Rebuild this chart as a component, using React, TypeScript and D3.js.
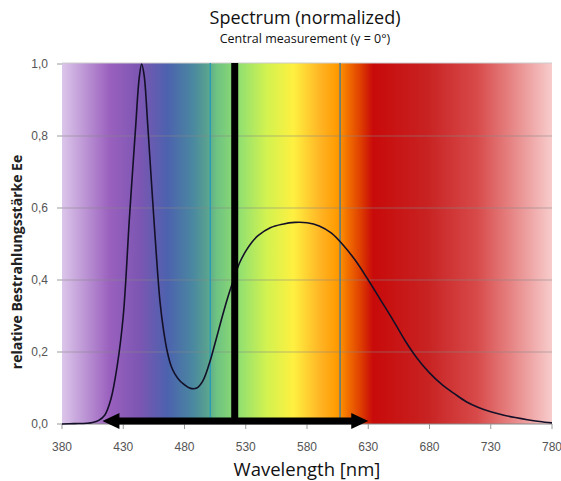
import React from "react";
import * as d3 from "d3";

const wavelengths = [380, 390, 400, 405, 410, 415, 420, 425, 430, 435, 440, 443, 445, 447, 450, 455, 460, 463, 466, 469, 472, 476, 480, 485, 490, 495, 500, 505, 510, 515, 520, 525, 530, 535, 540, 550, 560, 570, 580, 590, 600, 610, 620, 630, 640, 650, 660, 670, 680, 690, 700, 710, 720, 730, 740, 750, 760, 770, 780];
const irradiance = [0.0, 0.001, 0.002, 0.004, 0.01, 0.025, 0.07, 0.16, 0.3, 0.57, 0.82, 0.96, 1.0, 0.97, 0.83, 0.57, 0.34, 0.258, 0.2, 0.162, 0.14, 0.121, 0.109, 0.099, 0.1, 0.12, 0.165, 0.225, 0.288, 0.348, 0.4, 0.448, 0.48, 0.505, 0.523, 0.545, 0.555, 0.56, 0.559, 0.55, 0.53, 0.495, 0.452, 0.4, 0.345, 0.29, 0.232, 0.182, 0.142, 0.11, 0.085, 0.062, 0.046, 0.034, 0.025, 0.018, 0.012, 0.007, 0.003];

const xTicks = [380, 430, 480, 530, 580, 630, 680, 730, 780];
const yTicks = [0, 0.2, 0.4, 0.6, 0.8, 1.0];

const bandNm = [380, 419, 444, 466, 487, 498, 506, 525, 547, 569, 591, 605, 613, 623, 634, 678, 719, 746, 780];
const bandColors = ["#dcc6ea", "#9a60be", "#7b56b2", "#4c62ae", "#4a88a0", "#58a090", "#6ec282", "#92e070", "#d2f250", "#fef040", "#ffb424", "#ff9a00", "#f27000", "#e04200", "#c80a0a", "#c82222", "#d84a4a", "#e68282", "#f8cccc"];

const markerLines = [501, 607];
const centerNm = 521;
const arrowFrom = 413;
const arrowTo = 630;

const W = 561;
const H = 481;
const left = 62;
const right = 552;
const top = 64;
const bottom = 424;

export default function App() {
  const x = d3.scaleLinear().domain([380, 780]).range([left, right]);
  const y = d3.scaleLinear().domain([0, 1]).range([bottom, top]);
  const pts: [number, number][] = wavelengths.map((w, i) => [w, irradiance[i]]);
  const line = d3
    .line<[number, number]>()
    .x((d) => x(d[0]))
    .y((d) => y(d[1]))
    .curve(d3.curveCatmullRom.alpha(0.5));
  const fmt = (v: number) => v.toFixed(1).replace(".", ",");
  const ay = y(0) - 3;
  const headL = 17;
  const headH = 8;
  const shaft = 3.4;
  const x0 = x(arrowFrom);
  const x1 = x(arrowTo);
  const arrowPath = `M${x0},${ay} L${x0 + headL},${ay - headH} L${x0 + headL},${ay - shaft} L${x1 - headL},${ay - shaft} L${x1 - headL},${ay - headH} L${x1},${ay} L${x1 - headL},${ay + headH} L${x1 - headL},${ay + shaft} L${x0 + headL},${ay + shaft} L${x0 + headL},${ay + headH} Z`;
  const font = "'Liberation Sans', Arial, sans-serif";
  const tfont = "'Open Sans', 'Liberation Sans', sans-serif";
  return (
    <svg width={W} height={H} style={{ position: "absolute", left: 0, top: 0, background: "#fff" }}>
      <defs>
        <linearGradient id="spec" gradientUnits="userSpaceOnUse" x1={left} x2={right} y1={0} y2={0}>
          {bandNm.map((n, i) => (
            <stop key={i} offset={(n - 380) / 400} stopColor={bandColors[i]} />
          ))}
        </linearGradient>
      </defs>
      <text x={305} y={24} textAnchor="middle" fontFamily={tfont} fontSize={18} fill="#111">
        Spectrum (normalized)
      </text>
      <text x={305} y={43} textAnchor="middle" fontFamily={tfont} fontSize={12.5} fill="#111">
        Central measurement (γ = 0°)
      </text>
      <rect x={left} y={top - 1} width={right - left} height={bottom - top + 1} fill="url(#spec)" />
      <line x1={left} x2={right} y1={top - 1} y2={top - 1} stroke="#ccc" strokeWidth={1} />
      {yTicks.filter((t) => t > 0 && t < 1).map((t) => (
        <line key={t} x1={left} x2={right} y1={y(t)} y2={y(t)} stroke="#888" strokeOpacity={0.55} strokeWidth={1.2} />
      ))}
      {yTicks.map((t) => (
        <g key={"yt" + t}>
          <line x1={left - 5} x2={left} y1={y(t)} y2={y(t)} stroke="#999" />
          <text x={48} y={y(t) + 4} textAnchor="end" fontFamily={font} fontSize={12} fill="#555">
            {fmt(t)}
          </text>
        </g>
      ))}
      <line x1={left} x2={right} y1={bottom} y2={bottom} stroke="#888" />
      {xTicks.map((t) => (
        <g key={"xt" + t}>
          <line x1={x(t)} x2={x(t)} y1={bottom} y2={bottom + 5} stroke="#999" />
          <text x={x(t)} y={451} textAnchor="middle" fontFamily={font} fontSize={12} fill="#555">
            {t}
          </text>
        </g>
      ))}
      {markerLines.map((m, i) => (
        <line key={"m" + m} x1={x(m)} x2={x(m)} y1={top - 1} y2={bottom - 3} stroke={i === 0 ? "#2a9ab8" : "#4f7f92"} strokeWidth={1.5} />
      ))}
      <path d={line(pts) || ""} fill="none" stroke="#141028" strokeWidth={1.6} />
      <line x1={x(centerNm)} x2={x(centerNm)} y1={top - 1} y2={ay} stroke="#000" strokeWidth={7} />
      <path d={arrowPath} fill="#000" />
      <text
        transform={`translate(22, 262) rotate(-90)`}
        textAnchor="middle"
        fontFamily={tfont}
        fontSize={14}
        fontWeight="bold"
        fill="#222"
      >
        relative Bestrahlungsstärke Ee
      </text>
      <text x={307} y={476} textAnchor="middle" fontFamily={tfont} fontSize={18.5} fill="#111">
        Wavelength [nm]
      </text>
    </svg>
  );
}
